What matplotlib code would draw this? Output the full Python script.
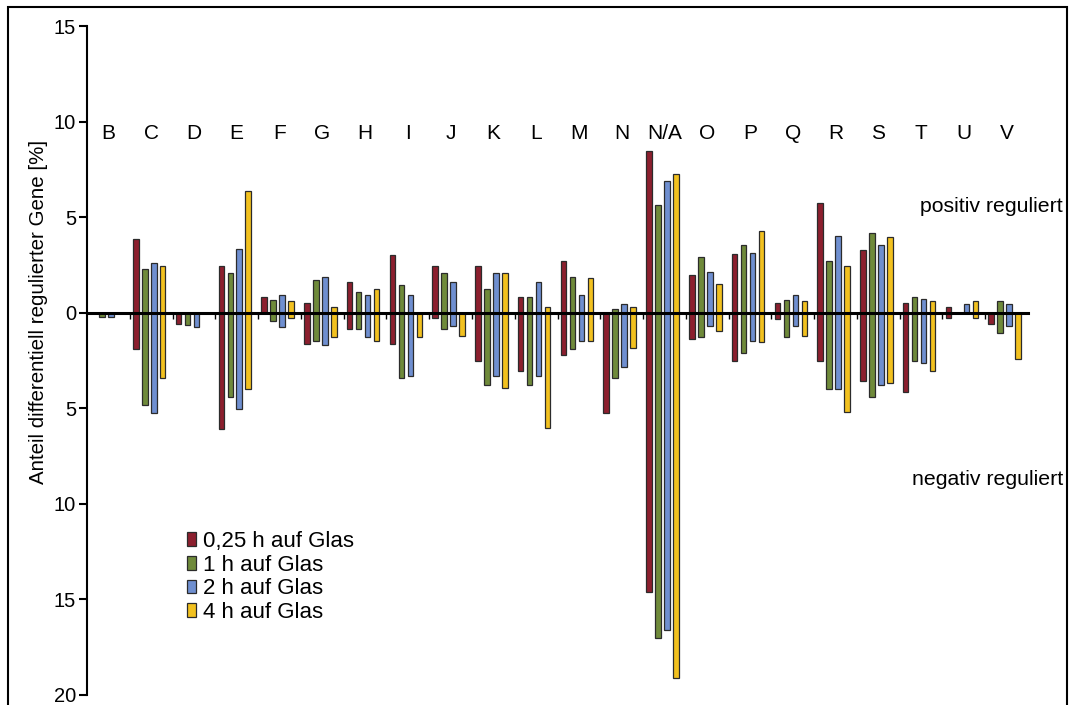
import matplotlib
matplotlib.use("Agg")
import matplotlib.pyplot as plt
import numpy as np
from matplotlib.patches import Patch, Rectangle
from matplotlib.ticker import FuncFormatter

plt.rcParams['font.family'] = ['Liberation Sans', 'DejaVu Sans']

categories = ["B", "C", "D", "E", "F", "G", "H", "I", "J", "K", "L", "M",
              "N", "N/A", "O", "P", "Q", "R", "S", "T", "U", "V"]

series_labels = ["0,25 h auf Glas", "1 h auf Glas", "2 h auf Glas", "4 h auf Glas"]

# share of up-regulated genes [%]
up_025h = [0, 3.84, 0, 2.44, 0.82, 0.52, 1.61, 3.04, 2.44, 2.44, 0.82, 2.72,
           0, 8.48, 1.95, 3.05, 0.52, 5.76, 3.26, 0.52, 0.28, 0]
up_1h = [0, 2.27, 0, 2.09, 0.65, 1.69, 1.06, 1.43, 2.09, 1.22, 0.82, 1.85,
         0.17, 5.65, 2.93, 3.56, 0.65, 2.72, 4.19, 0.82, 0, 0.63]
up_2h = [0, 2.62, 0, 3.32, 0.94, 1.85, 0.94, 0.91, 1.61, 2.09, 1.61, 0.94,
         0.47, 6.88, 2.11, 3.11, 0.94, 4.03, 3.56, 0.70, 0.47, 0.47]
up_4h = [0, 2.44, 0, 6.35, 0.59, 0.28, 1.22, 0, 0, 2.09, 0.28, 1.82,
         0.28, 7.26, 1.52, 4.26, 0.59, 2.44, 3.96, 0.59, 0.59, 0]

# share of down-regulated genes [%]
down_025h = [0, 1.92, 0.59, 6.07, 0, 1.64, 0.84, 1.64, 0.28, 2.51, 3.04, 2.23,
             5.24, 14.6, 1.40, 2.51, 0.31, 2.51, 3.56, 4.15, 0.28, 0.59]
down_1h = [0.23, 4.85, 0.66, 4.43, 0.42, 1.47, 0.87, 3.39, 0.87, 3.77, 3.77, 1.92,
           3.39, 17.04, 1.29, 2.11, 1.29, 4.01, 4.43, 2.51, 0, 1.05]
down_2h = [0.25, 5.24, 0.73, 5.03, 0.73, 1.71, 1.26, 3.32, 0.70, 3.32, 3.32, 1.47,
           2.86, 16.6, 0.70, 1.47, 0.70, 4.01, 3.77, 2.62, 0, 0.70]
down_4h = [0, 3.39, 0, 3.98, 0.28, 1.26, 1.50, 1.26, 1.22, 3.94, 6.04, 1.50,
           1.82, 19.13, 0.94, 1.54, 1.22, 5.17, 3.66, 3.04, 0.28, 2.44]

ups = [up_025h, up_1h, up_2h, up_4h]
downs = [down_025h, down_1h, down_2h, down_4h]
colors = ["#8c1f2e", "#6f8a3a", "#6f8fd0", "#f2c11f"]
edge = "#2b2b2b"

W, H = 1076, 705
fig = plt.figure(figsize=(W / 100, H / 100), dpi=100)
ax = fig.add_axes([87 / W, 1 - 695 / H, (1028 - 87) / W, (695 - 26) / H])

x = np.arange(len(categories))
offsets = [-0.36, -0.15, 0.06, 0.27]
bw = 0.13
for up, down, col, off in zip(ups, downs, colors, offsets):
    up = np.asarray(up)
    down = np.asarray(down)
    mu = up > 0
    md = down > 0
    ax.bar(x[mu] + off, up[mu], width=bw, color=col, edgecolor=edge,
           linewidth=0.9, zorder=2)
    ax.bar(x[md] + off, -down[md], width=bw, color=col, edgecolor=edge,
           linewidth=0.9, zorder=2)

ax.set_xlim(-0.5, len(categories) - 0.5)
ax.set_ylim(-20, 15)

for s in ["top", "right"]:
    ax.spines[s].set_visible(False)
ax.spines["left"].set_linewidth(1.5)
ax.spines["bottom"].set_position(("data", 0))
ax.spines["bottom"].set_linewidth(2.2)
ax.spines["bottom"].set_zorder(3)

ax.set_xticks(np.arange(0.5, len(categories) - 1, 1.0))
ax.tick_params(axis="x", direction="out", length=4, width=1.0,
               labelbottom=False)
ax.set_yticks([15, 10, 5, 0, -5, -10, -15, -20])
ax.yaxis.set_major_formatter(FuncFormatter(lambda v, p: f"{abs(v):g}"))
ax.tick_params(axis="y", direction="out", length=6, width=1.5,
               labelsize=14.5, pad=2)

ax.set_ylabel("Anteil differentiell regulierter Gene [%]", fontsize=14.8)
ax.yaxis.set_label_coords(-0.041, 0.5725)

for xi, name in zip(x, categories):
    ax.text(xi, 9.4, name, ha="center", va="center", fontsize=15)

ax.text(22.32, 5.55, "positiv reguliert", ha="right", va="center",
        fontsize=15.3, clip_on=False)
ax.text(22.32, -8.74, "negativ reguliert", ha="right", va="center",
        fontsize=15.3, clip_on=False)

handles = [Patch(facecolor=c, edgecolor=edge, linewidth=0.9) for c in colors]
fig.legend(handles, series_labels, loc="upper left",
           bbox_to_anchor=(187 / W, 1 - 531 / H), frameon=False,
           fontsize=16, handlelength=0.42, handleheight=0.55,
           handletextpad=0.3, labelspacing=0.12, borderpad=0,
           borderaxespad=0)

fig.patches.append(Rectangle((8 / W, -0.02), (1067 - 8) / W, 1 - 7 / H + 0.02,
                             transform=fig.transFigure, fill=False,
                             edgecolor="black", linewidth=1.5))

fig.savefig("out.png", dpi=100)
